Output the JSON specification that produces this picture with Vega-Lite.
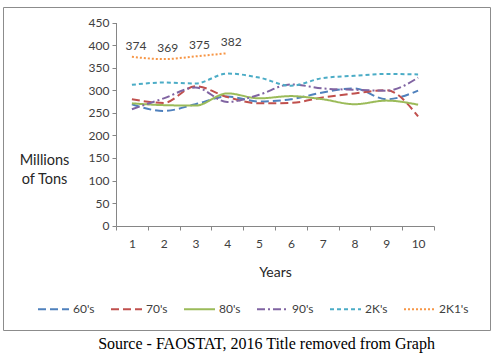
{
  "$schema": "https://vega.github.io/schema/vega-lite/v6.json",
  "width": 487,
  "height": 323,
  "autosize": "none",
  "padding": {"left": 3, "top": 7, "right": 9, "bottom": 27},
  "background": "white",
  "config": {
    "view": {"stroke": "#8c8c8c", "strokeWidth": 1},
    "font": "Lato",
    "legend": {
      "title": null,
      "direction": "horizontal",
      "symbolType": "stroke",
      "symbolSize": 961,
      "symbolStrokeWidth": 2,
      "labelFont": "Lato",
      "labelFontSize": 12,
      "labelColor": "#404040",
      "columnPadding": 12,
      "labelOffset": 3,
      "padding": 0
    }
  },
  "title": {
    "text": "Source - FAOSTAT, 2016 Title removed from Graph",
    "orient": "bottom",
    "frame": "group",
    "anchor": "middle",
    "dx": 20,
    "offset": 19,
    "baseline": "alphabetic",
    "font": "Liberation Serif",
    "fontSize": 16,
    "fontWeight": "normal",
    "color": "#000000"
  },
  "data": {
    "values": [
      {"year": 1, "series": "60's", "value": 269},
      {"year": 2, "series": "60's", "value": 254},
      {"year": 3, "series": "60's", "value": 269},
      {"year": 4, "series": "60's", "value": 286},
      {"year": 5, "series": "60's", "value": 275},
      {"year": 6, "series": "60's", "value": 280},
      {"year": 7, "series": "60's", "value": 295},
      {"year": 8, "series": "60's", "value": 304},
      {"year": 9, "series": "60's", "value": 280},
      {"year": 10, "series": "60's", "value": 299},
      {"year": 1, "series": "70's", "value": 280},
      {"year": 2, "series": "70's", "value": 272},
      {"year": 3, "series": "70's", "value": 309},
      {"year": 4, "series": "70's", "value": 285},
      {"year": 5, "series": "70's", "value": 271},
      {"year": 6, "series": "70's", "value": 272},
      {"year": 7, "series": "70's", "value": 284},
      {"year": 8, "series": "70's", "value": 293},
      {"year": 9, "series": "70's", "value": 300},
      {"year": 10, "series": "70's", "value": 242},
      {"year": 1, "series": "80's", "value": 271},
      {"year": 2, "series": "80's", "value": 267},
      {"year": 3, "series": "80's", "value": 266},
      {"year": 4, "series": "80's", "value": 293},
      {"year": 5, "series": "80's", "value": 282},
      {"year": 6, "series": "80's", "value": 287},
      {"year": 7, "series": "80's", "value": 280},
      {"year": 8, "series": "80's", "value": 269},
      {"year": 9, "series": "80's", "value": 277},
      {"year": 10, "series": "80's", "value": 268},
      {"year": 1, "series": "90's", "value": 258},
      {"year": 2, "series": "90's", "value": 282},
      {"year": 3, "series": "90's", "value": 306},
      {"year": 4, "series": "90's", "value": 274},
      {"year": 5, "series": "90's", "value": 290},
      {"year": 6, "series": "90's", "value": 313},
      {"year": 7, "series": "90's", "value": 304},
      {"year": 8, "series": "90's", "value": 301},
      {"year": 9, "series": "90's", "value": 299},
      {"year": 10, "series": "90's", "value": 328},
      {"year": 1, "series": "2K's", "value": 312},
      {"year": 2, "series": "2K's", "value": 317},
      {"year": 3, "series": "2K's", "value": 315},
      {"year": 4, "series": "2K's", "value": 337},
      {"year": 5, "series": "2K's", "value": 328},
      {"year": 6, "series": "2K's", "value": 310},
      {"year": 7, "series": "2K's", "value": 327},
      {"year": 8, "series": "2K's", "value": 332},
      {"year": 9, "series": "2K's", "value": 336},
      {"year": 10, "series": "2K's", "value": 335},
      {"year": 1, "series": "2K1's", "value": 374},
      {"year": 2, "series": "2K1's", "value": 369},
      {"year": 3, "series": "2K1's", "value": 375},
      {"year": 4, "series": "2K1's", "value": 382}
    ]
  },
  "encoding": {
    "x": {
      "field": "year",
      "type": "ordinal",
      "scale": {"type": "band", "range": [113, 431], "paddingInner": 0, "paddingOuter": 0},
      "axis": {
        "orient": "bottom",
        "offset": -104,
        "tickBand": "extent",
        "tickSize": 4,
        "tickColor": "#868686",
        "domainColor": "#868686",
        "labelAngle": 0,
        "labelPadding": 8,
        "labelFont": "Lato",
        "labelFontSize": 12,
        "labelColor": "#404040",
        "title": "Years",
        "titleFont": "Lato",
        "titleFontSize": 14,
        "titleFontWeight": "normal",
        "titleColor": "#262626",
        "titlePadding": 16,
        "grid": false
      }
    },
    "y": {
      "field": "value",
      "type": "quantitative",
      "scale": {"domain": [0, 450], "range": [218.7, 15.5], "nice": false, "zero": false},
      "axis": {
        "orient": "left",
        "offset": -113,
        "values": [0, 50, 100, 150, 200, 250, 300, 350, 400, 450],
        "tickSize": 4,
        "tickColor": "#868686",
        "domainColor": "#868686",
        "labelPadding": 3,
        "labelFont": "Lato",
        "labelFontSize": 12,
        "labelColor": "#404040",
        "grid": false,
        "title": ["Millions", "of Tons"],
        "titleAngle": 0,
        "titleAlign": "center",
        "titleBaseline": "middle",
        "titleX": -72,
        "titleY": 153.5,
        "titleLineHeight": 19,
        "titleFont": "Lato",
        "titleFontSize": 14.5,
        "titleFontWeight": "normal",
        "titleColor": "#262626"
      }
    }
  },
  "layer": [
    {
      "mark": {"type": "line", "strokeWidth": 2, "interpolate": "monotone"},
      "encoding": {
        "color": {
          "field": "series",
          "type": "nominal",
          "scale": {
            "domain": ["60's", "70's", "80's", "90's", "2K's", "2K1's"],
            "range": ["#4F81BD", "#C0504D", "#9BBB59", "#8064A2", "#4BACC6", "#F79646"]
          },
          "legend": {"orient": "none", "legendX": 34, "legendY": 285.5}
        },
        "strokeDash": {
          "field": "series",
          "type": "nominal",
          "scale": {
            "domain": ["60's", "70's", "80's", "90's", "2K's", "2K1's"],
            "range": [[8, 4], [8, 4], [1, 0], [8, 3, 2, 3], [4, 3], [2, 2]]
          },
          "legend": {"orient": "none", "legendX": 34, "legendY": 285.5}
        }
      }
    },
    {
      "transform": [{"filter": "datum.series === \"2K1's\""}],
      "mark": {"type": "text", "dy": -11, "dx": 4, "font": "Lato", "fontSize": 12, "color": "#404040"},
      "encoding": {"text": {"field": "value", "type": "quantitative"}}
    }
  ]
}
